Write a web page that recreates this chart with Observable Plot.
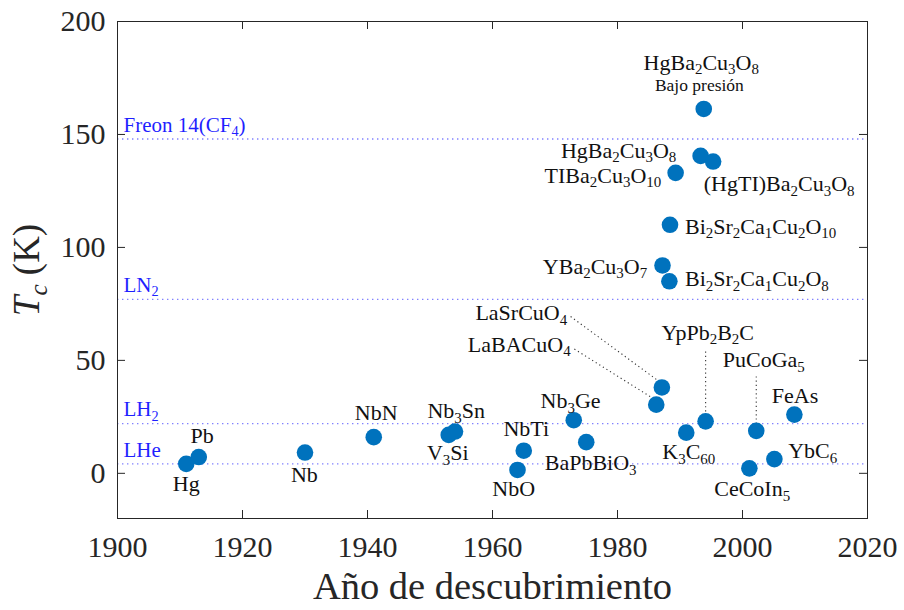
<!DOCTYPE html>
<html><head><meta charset="utf-8">
<script src="https://cdn.jsdelivr.net/npm/d3@7"></script>
<script src="https://cdn.jsdelivr.net/npm/@observablehq/plot@0.6"></script>
<style>
body{margin:0;background:#fff}
#chart{width:904px;height:610px}
#chart svg, #chart svg text, #chart svg tspan{font-family:"Liberation Serif","DejaVu Serif",serif !important}
</style>
</head><body><div id="chart"></div>
<script>
// ---- data (subscripts written as _{..}) ----
const materials = ["Hg","Pb","Nb","NbN","V_{3}Si","Nb_{3}Sn","NbO","NbTi","Nb_{3}Ge","BaPbBiO_{3}",
  "LaBACuO_{4}","LaSrCuO_{4}","YBa_{2}Cu_{3}O_{7}","Bi_{2}Sr_{2}Ca_{1}Cu_{2}O_{8}","Bi_{2}Sr_{2}Ca_{1}Cu_{2}O_{10}",
  "TIBa_{2}Cu_{3}O_{10}","K_{3}C_{60}","HgBa_{2}Cu_{3}O_{8}","HgBa_{2}Cu_{3}O_{8}","YpPb_{2}B_{2}C",
  "(HgTI)Ba_{2}Cu_{3}O_{8}","CeCoIn_{5}","PuCoGa_{5}","YbC_{6}","FeAs"];
const years = [1911,1913,1930,1941,1953,1954,1964,1965,1973,1975,
  1986.2,1987.1,1987.2,1988.3,1988.4,1989.3,1991,1993.3,1993.8,1994.1,
  1995.3,2001.1,2002.2,2005.1,2008.3];
const tc = [4.2,7.2,9.2,16,17,18.5,1.5,10,23.5,13.8,
  30.4,38,92,85,110,133,18,140.5,161.3,23,
  138,2.2,18.8,6.3,26];

// label anchor positions (data units) and alignment
const labelYear = [1911.0,1913.55,1929.9,1941.4,1952.85,1954.2,1963.4,1965.4,1972.5,1975.7,
  1972.5,1971.95,1984.75,1990.8,1990.8,1987.0,1991.4,1989.4,1993.4,1994.45,
  1993.8,2001.55,2003.4,2007.3,2008.4];
const labelTc = [-4.9,16.5,-0.7,26.8,8.8,27.5,-6.7,19.7,31.9,4.4,
  56.9,70.9,91.4,85.9,109.1,131.7,9.4,142.8,181.8,62.3,
  127.9,-7.1,50.0,9.8,34.4];
const labelAlign = ["middle","middle","middle","middle","middle","middle","middle","middle","middle","middle",
  "end","end","end","start","start","end","middle","end","middle","middle",
  "start","middle","middle","start","middle"];
const noteText = ["Bajo presión"];
const noteYear = [1993.1];
const noteTc = [171.6];

// leader lines
const leaderX1 = [1972.5,1973.1,1994.1,2002.2];
const leaderY1 = [69.4,55.0,53.9,42.9];
const leaderX2 = [1986.4,1985.55,1994.1,2002.2];
const leaderY2 = [41.2,33.4,26.0,22.3];

// reference temperatures
const refNames = ["Freon 14(CF_{4})","LN_{2}","LH_{2}","LHe"];
const refTemps = [148,77,22,4.2];

const xTicks = [1900,1920,1940,1960,1980,2000,2020];
const yTicks = [0,50,100,150,200];
const xLabel = "Año de descubrimiento";
const yLabel = "*T*_{*c*} (K)";

// ---- build tables ----
const points = materials.map((m,i)=>({name:m, year:years[i], tc:tc[i], lx:labelYear[i], ly:labelTc[i], align:labelAlign[i]}));
const notes = noteText.map((t,i)=>({t, x:noteYear[i], y:noteTc[i]}));
const leaders = leaderX1.map((d,i)=>({x1:d,y1:leaderY1[i],x2:leaderX2[i],y2:leaderY2[i]}));
const refs = refNames.map((n,i)=>({name:n,t:refTemps[i]}));

const W=904,H=610,mL=117,mR=37,mT=21,mB=92;
const pw=W-mL-mR, ph=H-mT-mB, tl=8;
const ink="#262626", blue="#1f1fff", dotBlue="#8080ff";
const FF="Liberation Serif, DejaVu Serif, serif";

const labelMarks = ["start","middle","end"].map(a =>
  Plot.text(points.filter(p=>p.align===a), {x:"lx", y:"ly", text:"name", textAnchor:a, lineAnchor:"middle", fontSize:22, fontFamily:FF, fill:"#111"}));

const chart = Plot.plot({
  width:W, height:H, marginLeft:mL, marginRight:mR, marginTop:mT, marginBottom:mB,
  style:{fontFamily:FF, background:"#fff"},
  x:{domain:[1900,2020]},
  y:{domain:[-20,200]},
  marks:[
    Plot.ruleY(refs, {y:"t", stroke:dotBlue, strokeWidth:1.4, strokeDasharray:"1.4,3.6"}),
    Plot.text(refs, {x:1900, y:"t", text:"name", dx:6, dy:-14, textAnchor:"start", lineAnchor:"middle", fontSize:21, fontFamily:FF, fill:blue}),
    Plot.link(leaders, {x1:"x1",y1:"y1",x2:"x2",y2:"y2", stroke:"#333", strokeWidth:1.1, strokeDasharray:"1.2,3"}),
    Plot.dot(points, {x:"year", y:"tc", r:8.3, fill:"#0072BD", stroke:null}),
    ...labelMarks,
    Plot.text(notes, {x:"x", y:"y", text:"t", fontSize:17.5, fontFamily:FF, fill:"#111", lineAnchor:"middle"}),
    Plot.frame({stroke:ink, strokeWidth:1}),
    Plot.tickX(xTicks, {x:d=>d, insetTop:ph-tl, stroke:ink}),
    Plot.tickX(xTicks, {x:d=>d, insetBottom:ph-tl, stroke:ink}),
    Plot.tickY(yTicks, {y:d=>d, insetRight:pw-tl, stroke:ink}),
    Plot.tickY(yTicks, {y:d=>d, insetLeft:pw-tl, stroke:ink}),
    Plot.axisX(xTicks, {tickSize:0, tickPadding:17, fontSize:30, fontFamily:FF, label:null, tickFormat:d=>String(d), fill:ink}),
    Plot.axisY(yTicks, {tickSize:0, tickPadding:12, fontSize:30, fontFamily:FF, label:null, fill:ink}),
    Plot.text([xLabel], {frameAnchor:"bottom", dy:68, fontSize:38.5, fontFamily:FF, textAnchor:"middle", lineAnchor:"middle", fill:ink}),
    Plot.text([yLabel], {frameAnchor:"left", dx:-90, rotate:-90, fontSize:37, fontFamily:FF, textAnchor:"middle", lineAnchor:"middle", fill:ink})
  ]
});
document.getElementById("chart").appendChild(chart);

// ---- rich text: _{sub}, *italic*, _{*italic sub*} ----
const NS="http://www.w3.org/2000/svg";
chart.querySelectorAll("text").forEach(t=>{
  const s=t.textContent;
  if(!/_\{|\*/.test(s)) return;
  const fs=parseFloat(getComputedStyle(t).fontSize)||20;
  const parts=s.split(/(_\{[^}]*\}|\*[^*]*\*)/).filter(p=>p.length);
  while(t.firstChild) t.removeChild(t.firstChild);
  let shift=0;
  for(const p of parts){
    const ts=document.createElementNS(NS,"tspan");
    if(p.startsWith("_{")){
      let inner=p.slice(2,-1);
      if(inner.startsWith("*")){inner=inner.slice(1,-1); ts.setAttribute("font-style","italic");}
      ts.textContent=inner;
      ts.setAttribute("font-size",(fs*0.68).toFixed(2));
      const target=fs*0.2;
      ts.setAttribute("dy",(target-shift).toFixed(2)); shift=target;
    } else {
      const italic=p.startsWith("*");
      ts.textContent=italic?p.slice(1,-1):p;
      if(italic) ts.setAttribute("font-style","italic");
      if(shift){ts.setAttribute("dy",(-shift).toFixed(2)); shift=0;}
    }
    t.appendChild(ts);
  }
});
</script>
</body></html>
